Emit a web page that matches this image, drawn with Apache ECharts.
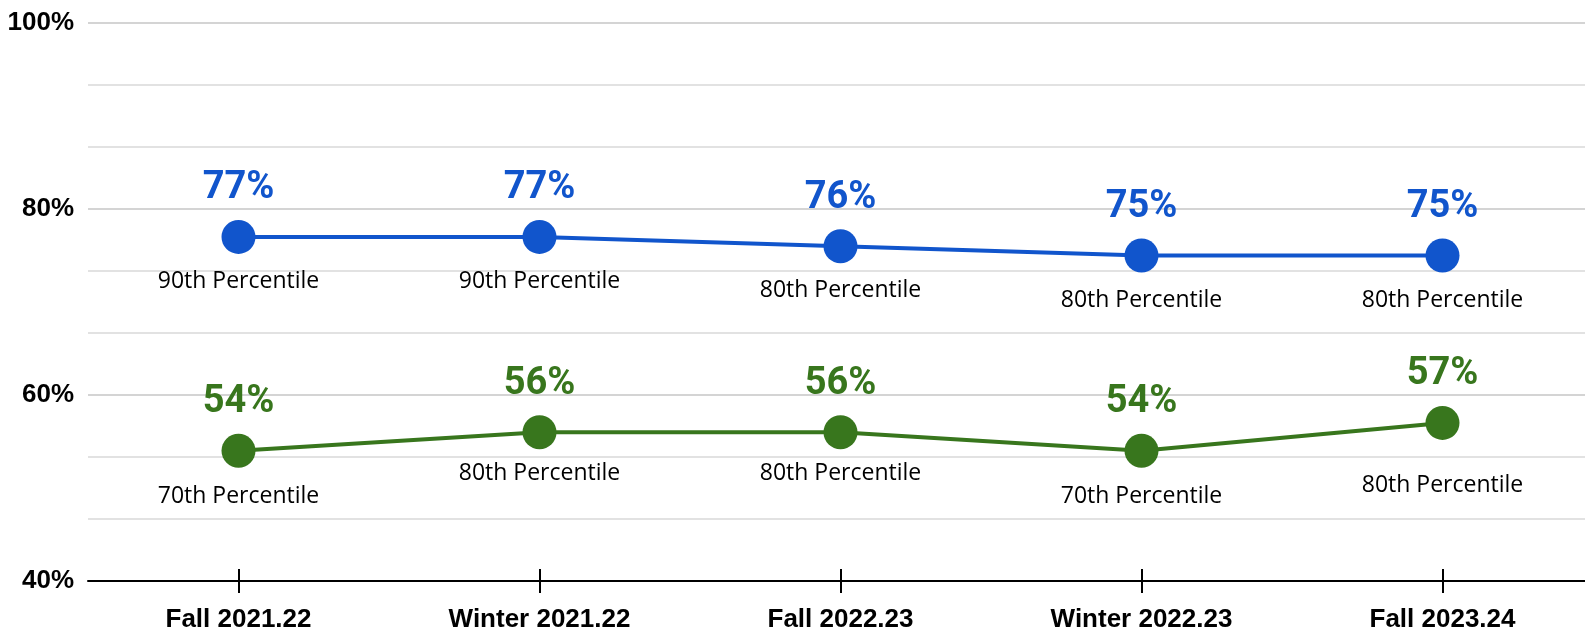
<!DOCTYPE html>
<html>
<head>
<meta charset="utf-8">
<script src="https://cdn.jsdelivr.net/npm/echarts@6/dist/echarts.min.js"></script>
<style>
  html, body { margin: 0; padding: 0; background: #fff; }
  #chart { width: 1585px; height: 630px; }
</style>
</head>
<body>
<div id="chart"></div>
<script>
const terms = ['Fall 2021.22', 'Winter 2021.22', 'Fall 2022.23', 'Winter 2022.23', 'Fall 2023.24']
const topValues = [77, 77, 76, 75, 75]
const topPercentiles = ['90th Percentile', '90th Percentile', '80th Percentile', '80th Percentile', '80th Percentile']
const bottomValues = [54, 56, 56, 54, 57]
const bottomPercentiles = ['70th Percentile', '80th Percentile', '80th Percentile', '70th Percentile', '80th Percentile']

const BLUE = '#1155cc'
const GREEN = '#38761d'

function valueLine(name, values, color) {
  return {
    name: name,
    type: 'line',
    data: values,
    symbol: 'circle',
    symbolSize: 34,
    lineStyle: { color: color, width: 4 },
    itemStyle: { color: color },
    label: {
      show: true,
      position: 'top',
      distance: 12,
      formatter: '{c}%',
      color: color,
      fontFamily: 'Roboto',
      fontWeight: 'bold',
      fontSize: 38
    },
    z: 3
  }
}

// invisible copy that only carries the percentile text under each dot
function percentileLabels(values, texts, gaps) {
  return {
    type: 'scatter',
    silent: true,
    symbolSize: 34,
    itemStyle: { color: 'rgba(0,0,0,0)' },
    data: values.map((v, i) => ({
      value: v,
      label: { distance: gaps[i] }
    })),
    label: {
      show: true,
      position: 'bottom',
      formatter: p => texts[p.dataIndex],
      color: '#000',
      opacity: 1,
      fontFamily: 'Open Sans',
      fontSize: 23
    },
    z: 2
  }
}

let myChart = echarts.init(document.getElementById('chart'))
myChart.setOption({
  animation: false,
  grid: { left: 88, right: -8, top: 23, bottom: 49, outerBoundsMode: 'none' },
  xAxis: [
    {
      type: 'category',
      data: terms,
      boundaryGap: true,
      axisLine: { show: true, lineStyle: { color: '#000', width: 2 } },
      axisTick: { show: true, alignWithLabel: true, length: 12, lineStyle: { color: '#000', width: 2 } },
      axisLabel: {
        margin: 26,
        color: '#000',
        fontFamily: 'Liberation Sans',
        fontWeight: 'bold',
        fontSize: 26
      }
    },
    {
      type: 'category',
      data: terms,
      position: 'bottom',
      boundaryGap: true,
      axisLine: { show: false },
      axisTick: { show: true, inside: true, alignWithLabel: true, length: 12, lineStyle: { color: '#000', width: 2 } },
      axisLabel: { show: false }
    }
  ],
  yAxis: {
    type: 'value',
    min: 40,
    max: 100,
    interval: 20,
    axisLine: { show: false },
    axisTick: { show: false },
    axisLabel: {
      formatter: '{value}%',
      margin: 14,
      color: '#000',
      fontFamily: 'Liberation Sans',
      fontWeight: 'bold',
      fontSize: 26
    },
    splitLine: { lineStyle: { color: '#d4d4d4', width: 2 } },
    minorTick: { show: false, splitNumber: 3 },
    minorSplitLine: { show: true, lineStyle: { color: '#e2e2e2', width: 2 } }
  },
  series: [
    valueLine('top', topValues, BLUE),
    valueLine('bottom', bottomValues, GREEN),
    percentileLabels(topValues, topPercentiles, [16, 16, 16, 16, 16]),
    percentileLabels(bottomValues, bottomPercentiles, [17, 13, 13, 17, 34])
  ]
})
</script>
</body>
</html>
